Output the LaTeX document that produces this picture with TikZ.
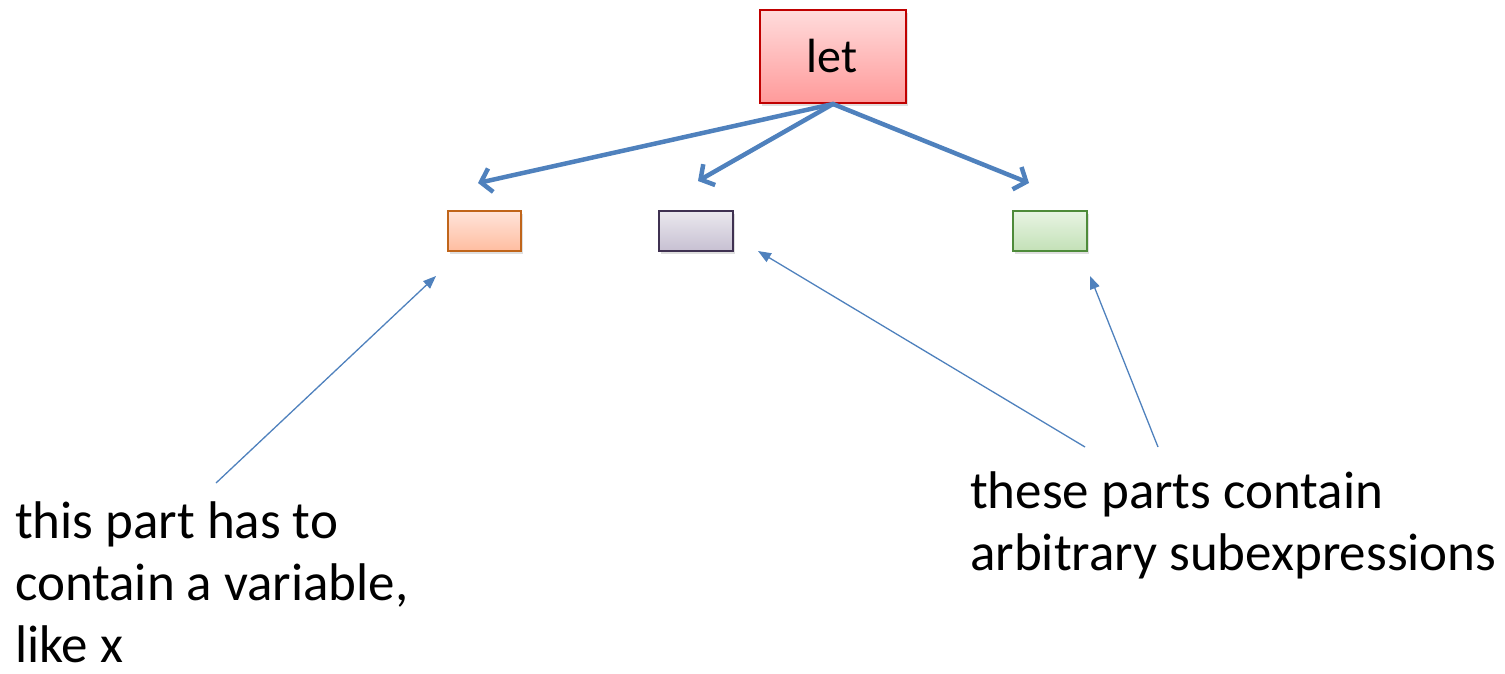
\documentclass[tikz,border=0pt]{standalone}
\usepackage{fontspec}
\setmainfont{Carlito}
\usetikzlibrary{arrows.meta,shadows}
\definecolor{arrowblue}{HTML}{4F81BD}
\definecolor{letborder}{HTML}{C00000}
\definecolor{lettop}{HTML}{FFDCDC}
\definecolor{letbot}{HTML}{FF9A9A}
\definecolor{orborder}{HTML}{C0651A}
\definecolor{ortop}{HTML}{FFE4DA}
\definecolor{orbot}{HTML}{FFBDA0}
\definecolor{puborder}{HTML}{3F3151}
\definecolor{putop}{HTML}{EAE8EE}
\definecolor{pubot}{HTML}{C7C0D2}
\definecolor{grborder}{HTML}{4E8B3A}
\definecolor{grtop}{HTML}{E8F4E3}
\definecolor{grbot}{HTML}{C3E1B7}
\tikzset{
  shbox/.style={draw, line width=2pt, inner sep=0pt, anchor=north west,
     drop shadow={shadow xshift=1.5pt, shadow yshift=-3pt, opacity=0.25}},
  bigarrow/.style={draw=arrowblue, line width=4.5pt, line cap=round,
     -{Straight Barb[length=10pt,width=24pt,line width=4.5pt]}},
  thinarrow/.style={draw=arrowblue, line width=1.3pt,
     -{Triangle[length=13pt,width=10pt]}},
  lbl/.style={font=\fontsize{53}{62}\selectfont, align=left, inner sep=0pt, anchor=base west}
}
\begin{document}
\begin{tikzpicture}[x=1pt,y=-1pt]
\useasboundingbox (0,0) rectangle (1505,673);
\node[shbox, draw=letborder, top color=lettop, bottom color=letbot,
      minimum width=146pt, minimum height=93pt] (let) at (759,9) {};
\node[font=\fontsize{48}{56}\selectfont, anchor=base, inner sep=0pt] (lettxt) at (832,72) {let};
\node[shbox, draw=orborder, top color=ortop, bottom color=orbot,
      minimum width=73pt, minimum height=40pt] (a) at (447,210) {};
\node[shbox, draw=puborder, top color=putop, bottom color=pubot,
      minimum width=74pt, minimum height=40pt] (b) at (658,210) {};
\node[shbox, draw=grborder, top color=grtop, bottom color=grbot,
      minimum width=74pt, minimum height=40pt] (c) at (1012,210) {};
\coordinate (ta) at (478,183);
\coordinate (tb) at (698,181);
\coordinate (tc) at (1029,183);
\draw[bigarrow] (let.south) -- (ta);
\draw[bigarrow] (let.south) -- (tb);
\draw[bigarrow] (let.south) -- (tc);
\node[lbl] (left) at (15,662) {this part has to\\contain a variable,\\like x};
\node[lbl] (right) at (970,570) {these parts contain\\arbitrary subexpressions};
\coordinate (s1) at (216,483);
\coordinate (s2) at (1085,447);
\coordinate (s3) at (1158,447);
\coordinate (e1) at (436,276);
\coordinate (e2) at (758,251);
\coordinate (e3) at (1090,276);
\draw[thinarrow] (s1) -- (e1);
\draw[thinarrow] (s2) -- (e2);
\draw[thinarrow] (s3) -- (e3);
\end{tikzpicture}
\end{document}
